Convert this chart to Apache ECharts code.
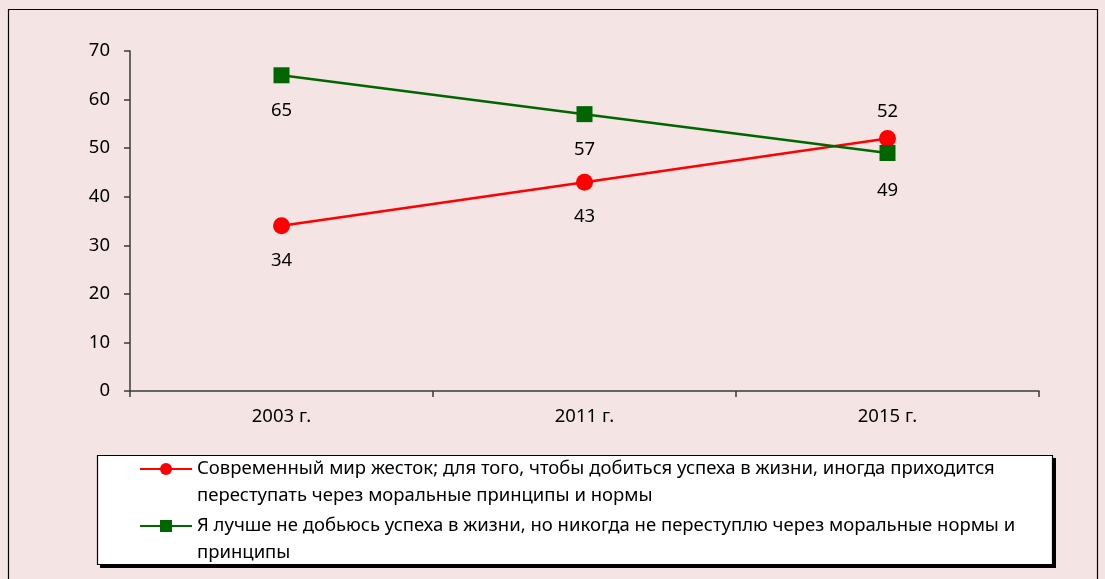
<!DOCTYPE html>
<html>
<head>
<meta charset="utf-8">
<script src="https://cdn.jsdelivr.net/npm/echarts@6/dist/echarts.min.js"></script>
<style>
html,body{margin:0;padding:0;background:#F5E4E4;}
#chart{width:1105px;height:579px;}
</style>
</head>
<body>
<div id="chart"></div>
<script>
const categories = ['2003 г.', '2011 г.', '2015 г.'];
const seriesNames = [
  'Современный мир жесток; для того, чтобы добиться успеха в жизни, иногда приходится переступать через моральные принципы и нормы',
  'Я лучше не добьюсь успеха в жизни, но никогда не переступлю через моральные нормы и принципы'
];
const legendLines = [
  ['Современный мир жесток; для того, чтобы добиться успеха в жизни, иногда приходится', 'переступать через моральные принципы и нормы'],
  ['Я лучше не добьюсь успеха в жизни, но никогда не переступлю через моральные нормы и', 'принципы']
];
const cruelWorld = [34, 43, 52];
const moralFirst = [65, 57, 49];
const yTicks = [0, 10, 20, 30, 40, 50, 60, 70];

const FONT = 'Noto Sans';
const FS = 18.5;
const AXIS = '#3a3a3a';
const chart = echarts.init(document.getElementById('chart'), null, {renderer: 'canvas'});

function legendFor(i, top) {
  return {
    data: [seriesNames[i]],
    left: 139,
    top: top,
    padding: 0,
    itemWidth: 52,
    itemHeight: 15,
    itemGap: 6,
    z: 10,
    selectedMode: false,
    formatter: () => ' \n' + legendLines[i].join('\n'),
    textStyle: {fontFamily: FONT, fontSize: FS, lineHeight: 27, color: '#000'}
  };
}

const option = {
  backgroundColor: '#F5E4E4',
  animation: false,
  grid: {left: 130, right: 66, top: 51, bottom: 188, containLabel: false},
  xAxis: {
    type: 'category',
    data: categories,
    boundaryGap: true,
    axisLine: {lineStyle: {color: AXIS, width: 1.5}},
    axisTick: {show: true, length: 6, lineStyle: {color: AXIS, width: 1.5}},
    axisLabel: {fontFamily: FONT, fontSize: FS, color: '#000', margin: 16}
  },
  yAxis: {
    type: 'value',
    min: yTicks[0],
    max: yTicks[yTicks.length - 1],
    interval: 10,
    axisLine: {show: true, lineStyle: {color: AXIS, width: 1.5}},
    axisTick: {show: true, length: 6, lineStyle: {color: AXIS, width: 1.5}},
    splitLine: {show: false},
    axisLabel: {fontFamily: FONT, fontSize: FS, color: '#000', margin: 20}
  },
  legend: [legendFor(0, 428.5), legendFor(1, 485.5)],
  graphic: [
    {type: 'rect', z: 0, shape: {x: 8.5, y: 9.5, width: 1089, height: 620},
     style: {fill: 'none', stroke: '#000', lineWidth: 1.2}},
    {type: 'rect', z: 1, shape: {x: 100, y: 458, width: 956, height: 110},
     style: {fill: '#000', stroke: null}},
    {type: 'rect', z: 2, shape: {x: 97.5, y: 455.5, width: 955, height: 109},
     style: {fill: '#fff', stroke: '#000', lineWidth: 1.2}}
  ],
  series: [
    {
      name: seriesNames[0],
      type: 'line',
      data: cruelWorld.map((v, i) => i === 2 ? {value: v, label: {position: 'top', distance: 9}} : v),
      symbol: 'circle',
      symbolSize: 17,
      lineStyle: {color: '#FF0000', width: 2.5},
      itemStyle: {color: '#FF0000'},
      label: {show: true, position: 'bottom', distance: 17, fontFamily: FONT, fontSize: FS, color: '#000'}
    },
    {
      name: seriesNames[1],
      type: 'line',
      data: moralFirst.map((v, i) => i === 2 ? {value: v, label: {distance: 20}} : v),
      symbol: 'rect',
      symbolSize: 16,
      lineStyle: {color: '#006600', width: 2.5},
      itemStyle: {color: '#006600'},
      label: {show: true, position: 'bottom', distance: 18, fontFamily: FONT, fontSize: FS, color: '#000'}
    }
  ]
};
chart.setOption(option);
</script>
</body>
</html>
